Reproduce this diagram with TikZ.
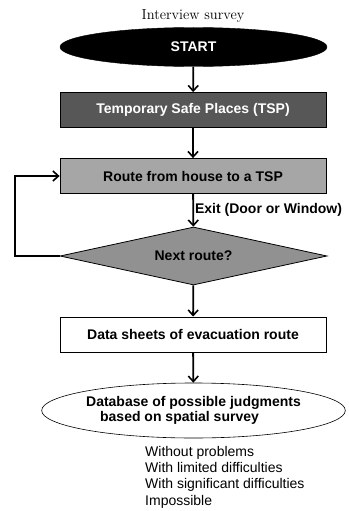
\documentclass[tikz,border=0pt]{standalone}
\usepackage{fontspec}
\setsansfont{Liberation Sans}
\usetikzlibrary{shapes.geometric,arrows.meta}
\begin{document}
\begin{tikzpicture}[x=1pt,y=-1pt,
  lbl/.style={font=\sffamily\bfseries\fontsize{14}{16}\selectfont},
  boxy/.style={draw=black,line width=0.8pt,minimum width=266pt,minimum height=35pt,inner sep=0pt,lbl},
  arr/.style={line width=1.8pt,-{Straight Barb[length=5.5pt,width=10pt,line width=1.6pt]}}]
\useasboundingbox (0,0) rectangle (348,511);
\node[font=\fontsize{14.5}{17}\selectfont] (title) at (193,16) {Interview survey};
\node[ellipse,fill=black,draw=black,minimum width=267pt,minimum height=39pt,inner sep=0pt,lbl,text=white] (start) at (193.5,47) {START};
\node[boxy,fill=black!66,text=white] (tsp) at (193,110) {Temporary Safe Places (TSP)};
\node[boxy,fill=black!35] (route) at (193,176) {Route from house to a TSP};
\node[diamond,draw=black,line width=0.8pt,fill=black!43,minimum width=267pt,minimum height=58pt,aspect=4.6,inner sep=0pt,lbl] (next) at (193.5,256) {Next route?};
\node[boxy,fill=white] (data) at (193,334.5) {Data sheets of evacuation route};
\node[ellipse,draw=black,line width=0.6pt,minimum width=267pt,minimum height=55pt,inner sep=0pt,lbl,align=left] (db) at (193.5,410.5) {Database of possible judgments\\[-1pt]\hspace*{14pt}based on spatial survey};
\node[anchor=north west,align=left,font=\sffamily\fontsize{14}{16.3}\selectfont,inner sep=0pt] (list) at (145,446) {Without problems\\With limited difficulties\\With significant difficulties\\Impossible};
\draw[arr] (start) -- (tsp);
\draw[arr] (tsp) -- (route);
\draw[arr] (route) -- node[lbl,right,inner sep=2pt,xshift=-1pt] (exit) {Exit (Door or Window)} (next);
\draw[arr] (next.west) -- ++(-45,0) |- (route.west);
\draw[arr] (next) -- (data);
\draw[arr] (data) -- (db);
\end{tikzpicture}
\end{document}
